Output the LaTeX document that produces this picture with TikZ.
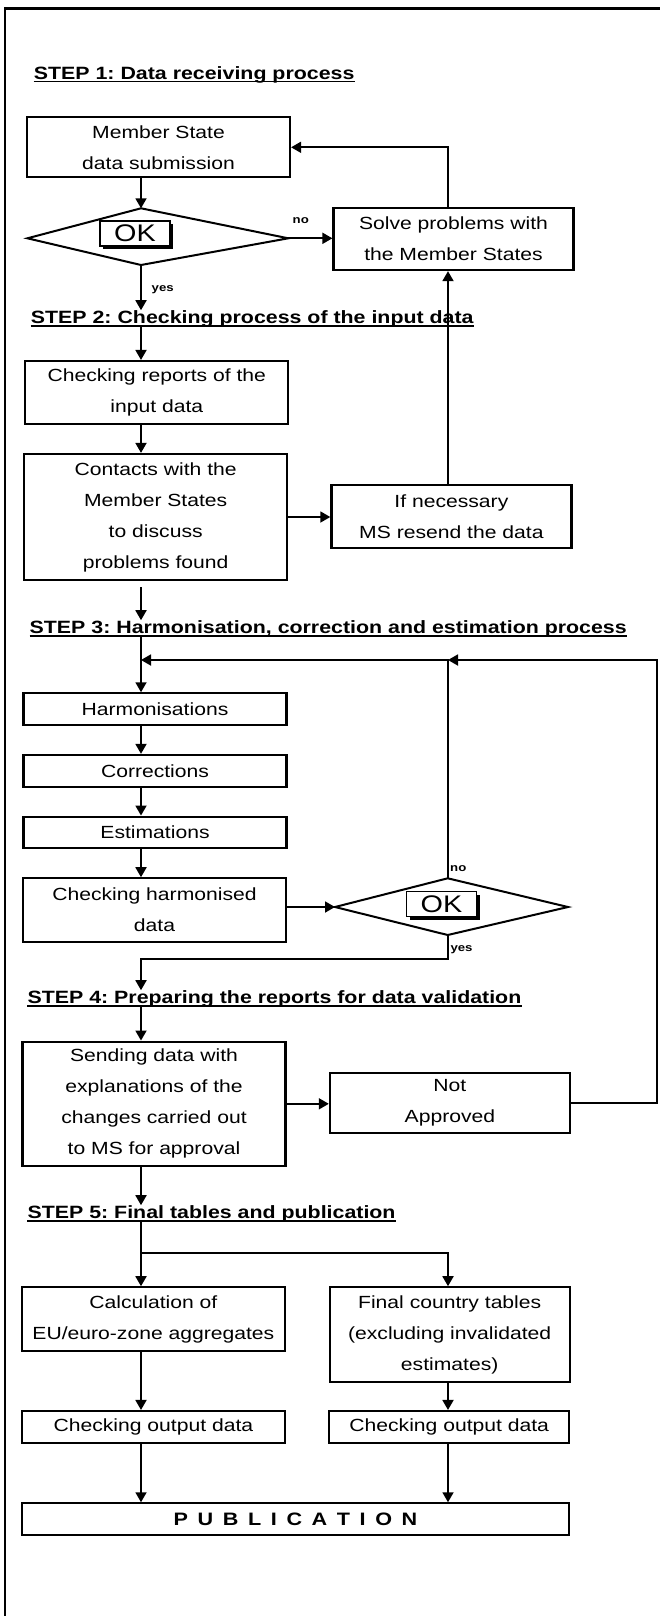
\documentclass[tikz,border=0pt]{standalone}
\usepackage{fontspec}
\setmainfont{Liberation Sans}[FakeStretch=1.2]
\usetikzlibrary{arrows.meta,shadows}
\frenchspacing

\tikzset{
  procbox/.style={draw,line width=2.2pt,align=center,inner sep=0pt,font=\fontsize{17.6}{31}\selectfont},
  lbox/.style={procbox,minimum width=263pt},
  rbox/.style={procbox,minimum width=240pt},
  steptitle/.style={anchor=base west,inner sep=0pt,font=\fontsize{17.8}{20}\selectfont\bfseries},
  underrule/.style={line width=1.4pt},
  arr/.style={line width=1.8pt,-{Triangle[length=10pt,width=11pt]}},
  wire/.style={line width=1.8pt},
  diam/.style={line width=2pt,line join=miter},
  okbox/.style={draw,fill=white,line width=1.8pt,minimum width=70pt,minimum height=25pt,inner sep=0pt,
    font=\fontsize{24}{26}\selectfont,
    drop shadow={fill=black,opacity=1,shadow xshift=3pt,shadow yshift=-3pt}},
  flag/.style={anchor=west,inner sep=0pt,font=\fontsize{11}{12}\selectfont\bfseries},
}

\begin{document}
\begin{tikzpicture}[x=1pt,y=-1pt]
\useasboundingbox (0,0) rectangle (660,1616);
% frame
\draw[line width=2.6pt] (660,8.5) -- (5,8.5) -- (5,1616);

\coordinate (col1) at (141,0);
\coordinate (col2) at (448,0);

% step 1
\node[steptitle] (head1) at (33.7,79.3) {STEP 1: Data receiving process};
\node[lbox,minimum height=60pt] (submit) at (158.5,147.3) {Member State\\data submission};
\coordinate (d1t) at (141,208.3);
\coordinate (d1r) at (288.3,238.3);
\coordinate (d1b) at (141,265);
\coordinate (d1l) at (27.4,238.3);
\draw[diam] (d1t) -- (d1r) -- (d1b) -- (d1l) -- cycle;
\node[okbox] (ok1) at (135,233.5) {OK};
\node[flag] (no1) at (292.5,221) {no};
\node[flag] (yes1) at (151.5,290) {yes};
\node[rbox,minimum height=61.7pt] (solve) at (453.5,239.2) {Solve problems with\\the Member States};

% step 2
\node[steptitle] (head2) at (30.7,323.3) {STEP 2: Checking process of the input data};
\node[lbox,minimum height=63.3pt] (chkin) at (156.8,392.7) {Checking reports of the\\input data};
\node[lbox,minimum height=126pt] (contact) at (155.7,517) {Contacts with the\\Member States\\to discuss\\problems found};
\node[rbox,minimum height=63.3pt] (resend) at (451.4,516.7) {If necessary\\MS resend the data};

% step 3
\node[steptitle] (head3) at (29.5,633.3) {STEP 3: Harmonisation, correction and estimation process};
\coordinate (loopL) at (141,660);
\coordinate (loopJ) at (448,660);
\coordinate (loopR) at (656.6,660);
\node[lbox,minimum height=31.7pt] (harm) at (155,709.2) {Harmonisations};
\node[lbox,minimum height=31.7pt] (corr) at (155,770.8) {Corrections};
\node[lbox,minimum height=31.7pt] (estim) at (155,832.5) {Estimations};
\node[lbox,minimum height=63.4pt] (chkharm) at (154.5,910) {Checking harmonised\\data};
\coordinate (d2t) at (447.7,878.3);
\coordinate (d2r) at (568,907);
\coordinate (d2b) at (447.7,935);
\coordinate (d2l) at (335,907);
\draw[diam] (d2t) -- (d2r) -- (d2b) -- (d2l) -- cycle;
\node[okbox] (ok2) at (441.5,904) {OK};
\node[flag] (no2) at (450,868.5) {no};
\node[flag] (yes2) at (450.3,950) {yes};
\coordinate (yb) at (141,959.3);

% step 4
\node[steptitle] (head4) at (27.4,1003.3) {STEP 4: Preparing the reports for data validation};
\node[lbox,minimum height=124.3pt] (send) at (154,1103.8) {Sending data with\\explanations of the\\changes carried out\\to MS for approval};
\node[rbox,minimum height=60.6pt] (notok) at (449.9,1103) {Not\\Approved};

% step 5
\node[steptitle] (head5) at (27.4,1218.3) {STEP 5: Final tables and publication};
\coordinate (split) at (141,1253.3);
\node[lbox,minimum height=63.4pt] (calc) at (153.4,1319) {Calculation of\\EU/euro-zone aggregates};
\node[rbox,minimum height=94.4pt] (final) at (449.7,1334.5) {Final country tables\\(excluding invalidated\\estimates)};
\node[lbox,minimum height=32.3pt] (out1) at (153.4,1427.2) {Checking output data};
\node[rbox,minimum height=32.3pt] (out2) at (449.2,1427.2) {Checking output data};
\node[procbox,minimum width=547pt,minimum height=31.7pt,font=\fontsize{18}{20}\selectfont\bfseries] (pub) at (295.5,1519.2)
  {\spaceskip=9.6pt\relax P U B L I C A T I O N};

\foreach \h in {head1,head2,head3,head4,head5}
  \draw[underrule] ([yshift=-2.5pt]\h.base west) -- ([yshift=-2.5pt]\h.base east);

% connectors
\draw[arr] (submit.south -| col1) -- (d1t);
\draw[arr] (d1r) -- (d1r -| solve.west);
\draw[arr] (solve.north -| col2) |- (submit.east);
\draw[arr] (d1b) -- (d1b |- head2.north);
\draw[arr] (head2.south -| col1) -- (chkin.north -| col1);
\draw[arr] (chkin.south -| col1) -- (contact.north -| col1);
\draw[arr] (contact.east) -- (contact.east -| resend.west);
\draw[arr] (resend.north -| col2) -- (solve.south -| col2);
\draw[arr,shorten <=6pt] (contact.south -| col1) -- (head3.north -| col1);
\draw[arr] (head3.south -| col1) -- (harm.north -| col1);
\draw[arr] (harm.south -| col1) -- (corr.north -| col1);
\draw[arr] (corr.south -| col1) -- (estim.north -| col1);
\draw[arr] (estim.south -| col1) -- (chkharm.north -| col1);
\draw[arr] (d2l -| chkharm.east) -- (d2l);
\draw[arr] (d2t) |- (loopL);
\draw[arr] (notok.east) -| (loopR) -- (loopJ);
\draw[arr] (d2b) |- (yb) -- (yb |- head4.north);
\draw[arr] (head4.south -| col1) -- (send.north -| col1);
\draw[arr] (send.east) -- (send.east -| notok.west);
\draw[arr] (send.south -| col1) -- (head5.north -| col1);
\draw[wire] (head5.south -| col1) -- (split);
\draw[arr] (split) -- (calc.north -| col1);
\draw[arr] (split) -| (final.north -| col2);
\draw[arr] (calc.south -| col1) -- (out1.north -| col1);
\draw[arr] (final.south -| col2) -- (out2.north -| col2);
\draw[arr] (out1.south -| col1) -- (pub.north -| col1);
\draw[arr] (out2.south -| col2) -- (pub.north -| col2);
\end{tikzpicture}
\end{document}
